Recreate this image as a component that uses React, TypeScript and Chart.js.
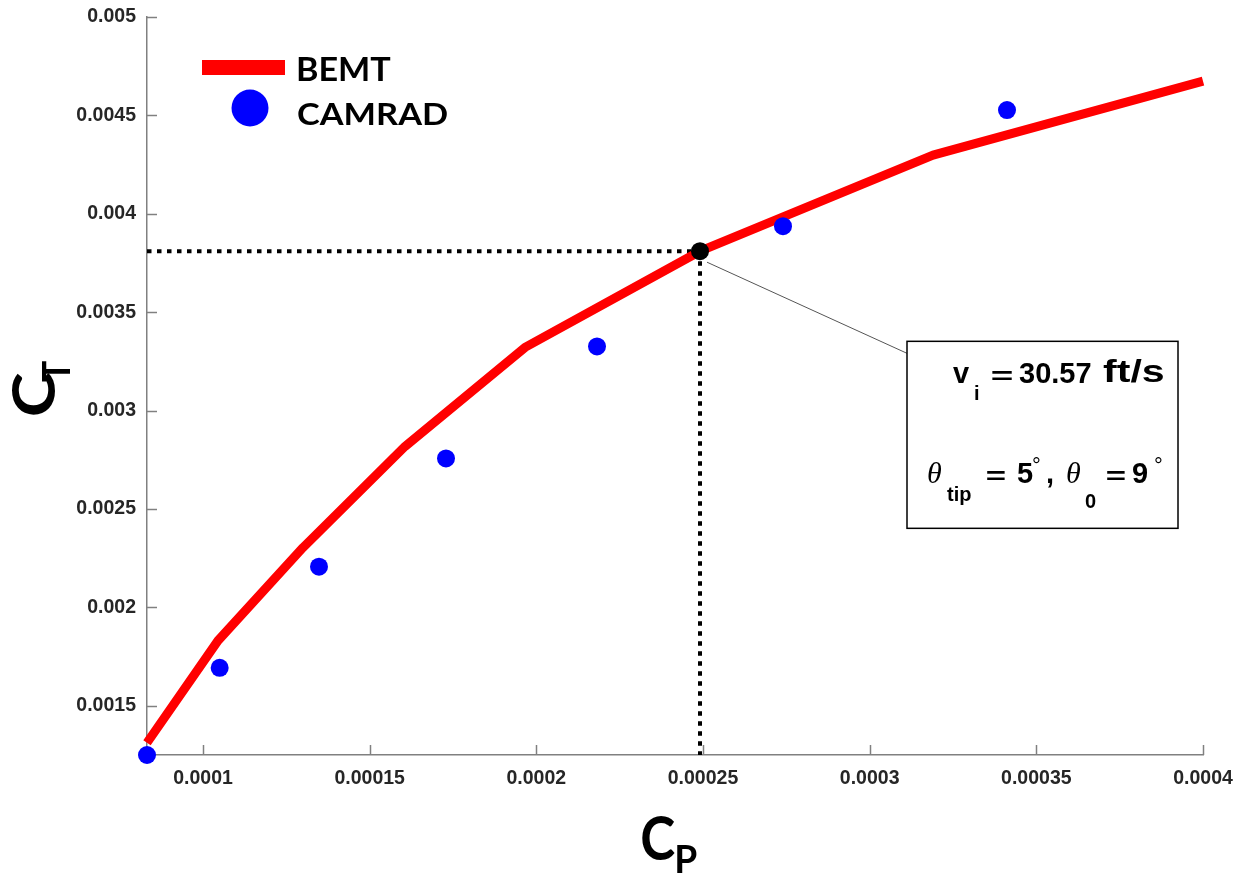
import React, { useEffect, useRef } from "react";
import { Chart, registerables } from "chart.js";

Chart.register(...registerables);

// ---------- data ----------
const bemtCp = [0.0000832, 0.0001045, 0.00013, 0.0001606, 0.0001966, 0.0002491, 0.000319, 0.0004];
const bemtCt = [0.001312, 0.001831, 0.002304, 0.002818, 0.003321, 0.00381, 0.004298, 0.004674];

const camradCp = [0.0000832, 0.000105, 0.0001348, 0.0001729, 0.0002182, 0.000274, 0.0003412];
const camradCt = [0.00125, 0.001693, 0.002207, 0.002757, 0.003326, 0.003937, 0.004527];

const designCp = [0.0002491];
const designCt = [0.00381];

const xTickValues = [0.0001, 0.00015, 0.0002, 0.00025, 0.0003, 0.00035, 0.0004];
const xTickLabels = ["0.0001", "0.00015", "0.0002", "0.00025", "0.0003", "0.00035", "0.0004"];
const yTickValues = [0.0015, 0.002, 0.0025, 0.003, 0.0035, 0.004, 0.0045, 0.005];
const yTickLabels = ["0.0015", "0.002", "0.0025", "0.003", "0.0035", "0.004", "0.0045", "0.005"];

const xMin = 0.0000832;
const xMax = 0.0004;
const yMin = 0.00125;
const yMax = 0.005;

const seriesNames = ["BEMT", "CAMRAD"];
const annotationAnchor = { cp: 0.0003112, ct: 0.003352 };

// ---------- styles ----------
const W = 1249;
const H = 878;
const AXIS_COLOR = "#808080";
const TICK_COLOR = "#262626";
const TITLE_FAMILY = "Lato, 'Open Sans', sans-serif";
const SANS = "'Liberation Sans', Arial, sans-serif";
const SERIF = "'Liberation Serif', 'Times New Roman', serif";

function drawAt(ctx: CanvasRenderingContext2D, text: string, font: string, left: number, baseline: number) {
  ctx.font = font;
  ctx.textAlign = "left";
  ctx.textBaseline = "alphabetic";
  const m = ctx.measureText(text);
  ctx.fillText(text, left + m.actualBoundingBoxLeft, baseline);
}

function drawTop(ctx: CanvasRenderingContext2D, text: string, font: string, left: number, top: number) {
  ctx.font = font;
  ctx.textAlign = "left";
  ctx.textBaseline = "alphabetic";
  const m = ctx.measureText(text);
  ctx.fillText(text, left + m.actualBoundingBoxLeft, top + m.actualBoundingBoxAscent);
}

// draw text so its ink box fills the given rectangle
function drawFit(
  ctx: CanvasRenderingContext2D,
  text: string,
  font: string,
  x0: number,
  y0: number,
  x1: number,
  y1: number
) {
  ctx.save();
  ctx.font = font;
  ctx.textAlign = "left";
  ctx.textBaseline = "alphabetic";
  const m = ctx.measureText(text);
  const bw = m.actualBoundingBoxLeft + m.actualBoundingBoxRight;
  const bh = m.actualBoundingBoxAscent + m.actualBoundingBoxDescent;
  ctx.translate(x0, y0);
  ctx.scale((x1 - x0) / bw, (y1 - y0) / bh);
  ctx.fillText(text, m.actualBoundingBoxLeft, m.actualBoundingBoxAscent);
  ctx.restore();
}

const decorPlugin = {
  id: "decor",
  beforeDatasetsDraw(chart: any) {
    const { ctx, chartArea, scales } = chart;
    const x = scales.x;
    const y = scales.y;
    ctx.save();
    ctx.strokeStyle = AXIS_COLOR;
    ctx.lineWidth = 1.5;
    xTickValues.forEach((v) => {
      const px = Math.round(x.getPixelForValue(v)) + 0.5;
      ctx.beginPath();
      ctx.moveTo(px, chartArea.bottom);
      ctx.lineTo(px, chartArea.bottom - 10);
      ctx.stroke();
    });
    yTickValues.forEach((v) => {
      const py = Math.round(y.getPixelForValue(v)) + 0.5;
      ctx.beginPath();
      ctx.moveTo(chartArea.left, py);
      ctx.lineTo(chartArea.left + 10, py);
      ctx.stroke();
    });
    ctx.restore();
  },
  afterDraw(chart: any) {
    const { ctx, chartArea, scales } = chart;
    const x = scales.x;
    const y = scales.y;
    const L0 = chartArea.left;
    const T0 = chartArea.top;
    ctx.save();

    // ----- legend -----
    ctx.fillStyle = "#ff0000";
    ctx.fillRect(L0 + 55, T0 + 43, 83, 15);
    ctx.fillStyle = "#0000ff";
    ctx.beginPath();
    ctx.arc(L0 + 103, T0 + 91, 18.5, 0, Math.PI * 2);
    ctx.fill();
    ctx.fillStyle = "#000";
    drawFit(ctx, seriesNames[0], `bold 33px ${TITLE_FAMILY}`, L0 + 151, T0 + 40, L0 + 244, T0 + 64);
    drawFit(ctx, seriesNames[1], `bold 33px ${TITLE_FAMILY}`, L0 + 151, T0 + 86, L0 + 300, T0 + 108);

    // ----- axis titles -----
    drawFit(ctx, "C", `bold 64px ${TITLE_FAMILY}`, 642, 815, 675, 861);
    drawFit(ctx, "P", `bold 39px ${TITLE_FAMILY}`, 677, 845, 697, 873);

    ctx.save();
    ctx.translate(40, 390);
    ctx.rotate(-Math.PI / 2);
    drawFit(ctx, "C", `bold 60px ${TITLE_FAMILY}`, -25, -28, 17, 15);
    drawFit(ctx, "T", `bold 39px ${TITLE_FAMILY}`, 8, 2, 29, 30);
    ctx.restore();

    // ----- annotation -----
    const bx = x.getPixelForValue(annotationAnchor.cp);
    const by = y.getPixelForValue(annotationAnchor.ct);
    const px = x.getPixelForValue(designCp[0]);
    const py = y.getPixelForValue(designCt[0]);
    ctx.strokeStyle = "#555";
    ctx.lineWidth = 1;
    ctx.beginPath();
    ctx.moveTo(px + 7, py + 11);
    ctx.lineTo(bx, by + 12);
    ctx.stroke();

    ctx.fillStyle = "#fff";
    ctx.fillRect(bx, by, 271, 187);
    ctx.strokeStyle = "#000";
    ctx.lineWidth = 1.5;
    ctx.strokeRect(bx, by, 271, 187);

    ctx.fillStyle = "#000";
    const big = `bold 29px ${SANS}`;
    const sub = `bold 20px ${SANS}`;
    const th = `italic 30px ${SERIF}`;
    const deg = `22px ${SANS}`;
    drawAt(ctx, "v", big, bx + 46, by + 42);
    drawAt(ctx, "i", sub, bx + 68, by + 59);
    drawFit(ctx, "=", big, bx + 85, by + 29, bx + 105, by + 39);
    drawAt(ctx, "30.57", big, bx + 112, by + 42);
    drawFit(ctx, "ft/s", `bold 33px ${SANS}`, bx + 196, by + 18, bx + 256, by + 42);

    drawAt(ctx, "\u03b8", th, bx + 21, by + 142);
    drawAt(ctx, "tip", sub, bx + 40, by + 160);
    drawFit(ctx, "=", big, bx + 80, by + 129, bx + 98, by + 139);
    drawAt(ctx, "5", big, bx + 110, by + 142);
    drawTop(ctx, "\u00b0", deg, bx + 126, by + 116);
    drawAt(ctx, ",", big, bx + 140, by + 142);
    drawAt(ctx, "\u03b8", th, bx + 160, by + 142);
    drawAt(ctx, "0", sub, bx + 178, by + 167);
    drawFit(ctx, "=", big, bx + 200, by + 129, bx + 218, by + 139);
    drawAt(ctx, "9", big, bx + 226, by + 142);
    drawTop(ctx, "\u00b0", deg, bx + 248, by + 116);

    ctx.restore();
  },
};

export default function App() {
  const canvasRef = useRef<HTMLCanvasElement | null>(null);

  useEffect(() => {
    document.body.style.margin = "0";
    const canvas = canvasRef.current;
    if (!canvas) return;

    const bemtData = bemtCp.map((v, i) => ({ x: v, y: bemtCt[i] }));
    const camradData = camradCp.map((v, i) => ({ x: v, y: camradCt[i] }));
    const designData = designCp.map((v, i) => ({ x: v, y: designCt[i] }));
    const hGuide = [
      { x: xMin, y: designCt[0] },
      { x: designCp[0], y: designCt[0] },
    ];
    const vGuide = [
      { x: designCp[0], y: designCt[0] },
      { x: designCp[0], y: yMin },
    ];

    const tickFont = { family: "'Liberation Sans', Arial, sans-serif", size: 19.5, weight: "bold" as const };

    const chart = new Chart(canvas, {
      type: "line",
      data: {
        datasets: [
          {
            label: "design",
            data: designData,
            showLine: false,
            pointRadius: 9,
            pointBackgroundColor: "#000",
            pointBorderColor: "#000",
            pointBorderWidth: 0,
            order: 0,
            clip: false as any,
          },
          {
            label: seriesNames[1],
            data: camradData,
            showLine: false,
            pointRadius: 9,
            pointBackgroundColor: "#0000ff",
            pointBorderColor: "#0000ff",
            pointBorderWidth: 0,
            order: 1,
            clip: false as any,
          },
          {
            label: seriesNames[0],
            data: bemtData,
            borderColor: "#ff0000",
            borderWidth: 9,
            pointRadius: 0,
            tension: 0,
            borderCapStyle: "butt",
            borderJoinStyle: "round",
            order: 2,
            clip: false as any,
          },
          {
            label: "hguide",
            data: hGuide,
            borderColor: "#000",
            borderWidth: 4,
            borderDash: [4.5, 5.5],
            pointRadius: 0,
            order: 3,
            clip: false as any,
          },
          {
            label: "vguide",
            data: vGuide,
            borderColor: "#000",
            borderWidth: 4,
            borderDash: [4.5, 5.5],
            pointRadius: 0,
            order: 3,
            clip: false as any,
          },
        ],
      },
      options: {
        animation: false,
        responsive: false,
        events: [],
        layout: { padding: { left: 0, top: 17, right: 46, bottom: 0 } },
        plugins: {
          legend: { display: false },
          tooltip: { enabled: false },
          title: { display: false },
        },
        scales: {
          x: {
            type: "linear",
            min: xMin,
            max: xMax,
            grid: { display: false, drawTicks: false },
            border: { display: true, color: AXIS_COLOR, width: 1.5 },
            afterBuildTicks: (scale: any) => {
              scale.ticks = xTickValues.map((v) => ({ value: v }));
            },
            afterFit: (scale: any) => {
              scale.height = H - 755;
              scale.paddingLeft = 0;
              scale.paddingRight = 0;
            },
            ticks: {
              autoSkip: false,
              maxRotation: 0,
              minRotation: 0,
              padding: 12,
              color: TICK_COLOR,
              font: tickFont,
              callback: (_v: any, i: number) => xTickLabels[i],
            },
          },
          y: {
            type: "linear",
            min: yMin,
            max: yMax,
            grid: { display: false, drawTicks: false },
            border: { display: true, color: AXIS_COLOR, width: 1.5 },
            afterBuildTicks: (scale: any) => {
              scale.ticks = yTickValues.map((v) => ({ value: v }));
            },
            afterFit: (scale: any) => {
              scale.width = 147;
              scale.paddingTop = 0;
              scale.paddingBottom = 0;
            },
            ticks: {
              autoSkip: false,
              padding: 11,
              color: TICK_COLOR,
              font: tickFont,
              callback: (_v: any, i: number) => yTickLabels[i],
            },
          },
        },
      },
      plugins: [decorPlugin],
    });

    return () => {
      chart.destroy();
    };
  }, []);

  return (
    <div style={{ position: "fixed", left: 0, top: 0, width: W, height: H, background: "#fff" }}>
      <canvas ref={canvasRef} width={W} height={H} style={{ width: W, height: H, display: "block" }} />
    </div>
  );
}
